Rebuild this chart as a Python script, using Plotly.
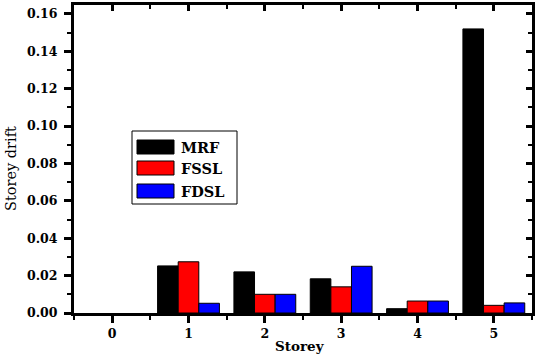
import plotly.graph_objects as go

storeys = [0, 1, 2, 3, 4, 5]
mrf = [0.0, 0.0252, 0.0220, 0.0183, 0.0023, 0.152]
fssl = [0.0, 0.0274, 0.0100, 0.0140, 0.0064, 0.0041]
fdsl = [0.0, 0.0052, 0.0100, 0.0250, 0.0064, 0.0054]
series_names = ["MRF", "FSSL", "FDSL"]
series_colors = ["#000000", "#ff0000", "#0000ff"]
y_ticks = [0.00, 0.02, 0.04, 0.06, 0.08, 0.10, 0.12, 0.14, 0.16]
y_tick_text = [f"{v:.2f}" for v in y_ticks]

W, H = 537, 354
L, R, T, B = 74, 532, 5, 313

FONT = "DejaVu Serif"

fig = go.Figure()
for name, vals, col in zip(series_names, [mrf, fssl, fdsl], series_colors):
    fig.add_trace(go.Bar(x=storeys, y=vals, name=name,
                         marker=dict(color=col, line=dict(color="black", width=[1 if v > 0 else 0 for v in vals])),
                         showlegend=False))

# invisible trace for top/right axes
fig.add_trace(go.Scatter(x=[None], y=[None], xaxis="x2", yaxis="y2", showlegend=False))

tickfont = dict(family=FONT, size=12.5, color="black", weight="bold")
xr = [-0.5, 5.5]
yr = [0, 0.1648]

fig.update_layout(
    width=W, height=H,
    margin=dict(l=L, r=W - R, t=T, b=H - B),
    paper_bgcolor="white", plot_bgcolor="white",
    barmode="group", bargap=0.19, bargroupgap=0,
    xaxis=dict(range=xr, tickvals=storeys, ticks="outside", ticklen=7, tickwidth=2.5, tickcolor="black",
               minor=dict(tickvals=[-0.5 + i for i in range(7)], ticks="outside", ticklen=4, tickwidth=2, tickcolor="black"),
               showline=True, linewidth=3, linecolor="black", showgrid=False, zeroline=False,
               tickfont=tickfont, ticklabelstandoff=0),
    yaxis=dict(range=yr, tickvals=y_ticks, ticktext=y_tick_text, ticks="outside", ticklen=7, tickwidth=2.5, tickcolor="black",
               minor=dict(tickvals=[0.01 + 0.02 * i for i in range(8)], ticks="outside", ticklen=4, tickwidth=2, tickcolor="black"),
               showline=True, linewidth=3, linecolor="black", showgrid=False, zeroline=False,
               tickfont=tickfont, ticklabelstandoff=4),
    xaxis2=dict(range=xr, overlaying="x", side="top", tickvals=storeys, ticks="inside", ticklen=6, tickwidth=2.5,
                tickcolor="black", showticklabels=False,
                minor=dict(tickvals=[-0.5 + i for i in range(7)], ticks="inside", ticklen=4, tickwidth=2, tickcolor="black"),
                showline=True, linewidth=3, linecolor="black", showgrid=False, zeroline=False),
    yaxis2=dict(range=yr, overlaying="y", side="right", tickvals=y_ticks, ticks="inside", ticklen=6, tickwidth=2.5,
                tickcolor="black", showticklabels=False,
                minor=dict(tickvals=[0.01 + 0.02 * i for i in range(8)], ticks="inside", ticklen=4, tickwidth=2, tickcolor="black"),
                showline=True, linewidth=3, linecolor="black", showgrid=False, zeroline=False),
)

def px(x):
    return (x - L) / (R - L)

def py(y):
    return (B - y) / (B - T)

annotations = [
    dict(xref="paper", yref="paper", x=px(300), y=py(346), text="Storey", showarrow=False,
         xanchor="center", yanchor="middle", font=dict(family=FONT, size=13.5, color="black", weight="bold")),
    dict(xref="paper", yref="paper", x=px(11), y=py(169), text="Storey drift", showarrow=False, textangle=-90,
         xanchor="center", yanchor="middle", font=dict(family=FONT, size=14.5, color="black")),
]

# custom legend
shapes = [dict(type="rect", xref="paper", yref="paper", x0=px(132), x1=px(237), y0=py(204), y1=py(131),
               line=dict(color="black", width=1), fillcolor="white", layer="above")]
rows = [147, 168, 191]
for name, col, yc in zip(series_names, series_colors, rows):
    shapes.append(dict(type="rect", xref="paper", yref="paper", x0=px(137), x1=px(174), y0=py(yc + 7), y1=py(yc - 7),
                       line=dict(color="black", width=1), fillcolor=col, layer="above"))
    annotations.append(dict(xref="paper", yref="paper", x=px(179), y=py(yc), text=name, showarrow=False,
                            xanchor="left", yanchor="middle",
                            font=dict(family=FONT, size=14.5, color="black", weight="bold")))
fig.update_layout(shapes=shapes, annotations=annotations)

fig.write_html("out.html")
